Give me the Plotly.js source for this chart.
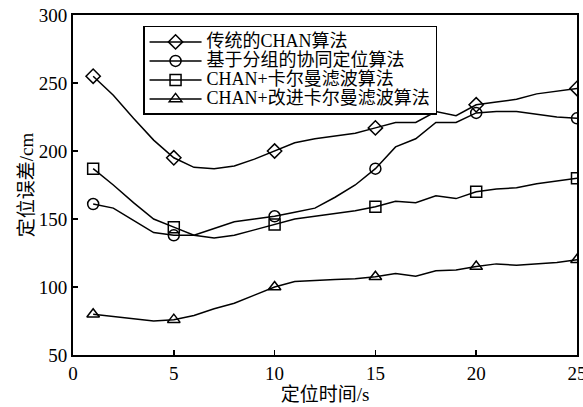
<!DOCTYPE html>
<html>
<head>
<meta charset="utf-8">
<script src="https://cdn.plot.ly/plotly-3.0.1.min.js"></script>
<style>html,body{margin:0;padding:0;background:#fff;}#chart{width:583px;height:407px;}</style>
</head>
<body>
<div id="chart"></div>
<script>
// time (s)
const timeS = [1,2,3,4,5,6,7,8,9,10,11,12,13,14,15,16,17,18,19,20,21,22,23,24,25];
// seconds at which markers are drawn
const markerTimes = [1,5,10,15,20,25];
const seriesNames = ["传统的CHAN算法","基于分组的协同定位算法","CHAN+卡尔曼滤波算法","CHAN+改进卡尔曼滤波算法"];
const chanTraditional = [255,241,224,208,195,188,187,189,194,200,206,209,211,213,217,221,221,229,226,234,236,238,242,244,246];
const groupCoop      = [161,158,149,140,138,138,143,148,150,152,155,158,166,175,187,203,209,221,221,228,229,229,227,225,224];
const chanKalman     = [187,175,162,150,144,138,136,138,142,146,150,152,154,156,159,163,162,167,165,170,172,173,176,178,180];
const chanImproved   = [80,78.5,77,75,76,79,84,88,94,100,104,105,105.5,106,107.5,110,108,112,112.5,115,117,116,117,118,120];
const xTicks = [0,5,10,15,20,25];
const yTicks = [50,100,150,200,250,300];
const symbols = ["diamond-open","circle-open","square-open","triangle-up-open"];
const allSeries = [chanTraditional, groupCoop, chanKalman, chanImproved];

const serif = 'Liberation Serif, Noto Sans CJK SC, serif';
const traces = [];
allSeries.forEach((ys, i) => {
  traces.push({x: timeS, y: ys, mode: 'lines', showlegend: false, hoverinfo: 'skip',
    line: {color: '#000', width: 1.5}});
  const mx = markerTimes, my = markerTimes.map(t => ys[timeS.indexOf(t)]);
  traces.push({x: mx, y: my, mode: 'markers', showlegend: false,
    marker: {symbol: symbols[i], size: 11, color: '#000', line: {color: '#000', width: 1.5}}});
  traces.push({x: [null], y: [null], mode: 'lines+markers',
    name: '<span style="font-size:18px">' + seriesNames[i] + '</span>',
    line: {color: '#000', width: 1.5},
    marker: {symbol: symbols[i], size: 11, color: '#000', line: {color: '#000', width: 1.5}}});
});

const layout = {
  width: 583, height: 407,
  margin: {l: 73, r: 6, t: 15, b: 52},
  paper_bgcolor: '#fff', plot_bgcolor: '#fff',
  font: {family: serif, size: 18, color: '#000'},
  showlegend: true,
  legend: {x: 0.139, y: 0.968, xanchor: 'left', yanchor: 'top', bordercolor: '#000', borderwidth: 1.5,
    bgcolor: '#fff', font: {family: serif, size: 12.3, color: '#000'}, itemwidth: 52, tracegroupgap: 0},
  xaxis: {range: [0, 25], tickvals: xTicks, ticks: 'inside', ticklen: 5, tickwidth: 1.5,
    tickcolor: '#000', showline: true, linecolor: '#000', linewidth: 2, mirror: true, showgrid: false,
    zeroline: false, tickfont: {family: serif, size: 19}, ticklabeloverflow: 'allow',
    title: {text: '定位时间/s', font: {family: serif, size: 19}, standoff: 0}},
  yaxis: {range: [50, 300], tickvals: yTicks, ticks: 'inside', ticklen: 5, tickwidth: 1.5,
    tickcolor: '#000', showline: true, linecolor: '#000', linewidth: 2, mirror: true, showgrid: false,
    zeroline: false, tickfont: {family: serif, size: 19},
    title: {text: '定位误差/cm', font: {family: serif, size: 19}, standoff: 0}}
};
Plotly.newPlot('chart', traces, layout, {staticPlot: true, displayModeBar: false});
</script>
</body>
</html>
